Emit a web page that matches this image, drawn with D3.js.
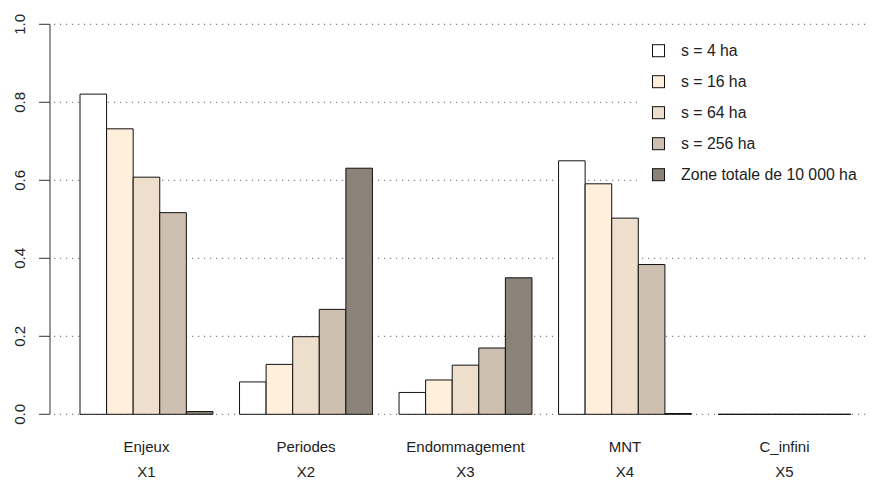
<!DOCTYPE html>
<html>
<head>
<meta charset="utf-8">
<script src="https://cdn.jsdelivr.net/npm/d3@7"></script>
<style>
body { margin: 0; background: #fff; }
text { font-family: "Liberation Sans", Arial, sans-serif; }
</style>
</head>
<body>
<div id="chart"></div>
<script>
const categories = ["Enjeux", "Periodes", "Endommagement", "MNT", "C_infini"];
const codes = ["X1", "X2", "X3", "X4", "X5"];
const seriesNames = ["s = 4 ha", "s = 16 ha", "s = 64 ha", "s = 256 ha", "Zone totale de 10 000 ha"];
const s4 = [0.821, 0.083, 0.056, 0.650, 0];
const s16 = [0.732, 0.128, 0.088, 0.591, 0];
const s64 = [0.608, 0.199, 0.126, 0.503, 0];
const s256 = [0.517, 0.269, 0.170, 0.384, 0];
const total = [0.007, 0.631, 0.350, 0.002, 0];
const colors = ["#FFFFFF", "#FFEFDB", "#EEDFCC", "#CDC0B0", "#8B8378"];
const yTicks = [0, 0.2, 0.4, 0.6, 0.8, 1.0];

const width = 872, height = 480;
const svg = d3.select("#chart").append("svg")
    .attr("width", width)
    .attr("height", height);

// bar units as in R barplot(beside=TRUE): one bar = 1 unit, one unit gap between groups
const xScale = d3.scaleLinear().domain([1, 30]).range([80, 851]);
const yScale = d3.scaleLinear().domain([0, 1]).range([414.3, 24.3]);

const allSeries = [s4, s16, s64, s256, total];

// dotted grid
svg.append("g").selectAll("line")
    .data(yTicks)
    .enter().append("line")
    .attr("x1", 54).attr("x2", 868)
    .attr("y1", d => yScale(d)).attr("y2", d => yScale(d))
    .attr("stroke", "#666")
    .attr("stroke-width", 1)
    .attr("stroke-dasharray", "1.2,4.8");

// bars
const bars = [];
categories.forEach((c, g) => {
    allSeries.forEach((s, k) => {
        bars.push({g: g, k: k, value: s[g]});
    });
});

// paths so that zero-height bars still show their outline
svg.append("g").selectAll("path")
    .data(bars)
    .enter().append("path")
    .attr("d", d => {
        const x0 = xScale(1 + d.g * 6 + d.k), x1 = xScale(2 + d.g * 6 + d.k);
        const y0 = yScale(0), y1 = yScale(d.value);
        return `M${x0},${y0}V${y1}H${x1}V${y0}Z`;
    })
    .attr("fill", d => colors[d.k])
    .attr("stroke", "#111")
    .attr("stroke-width", 1);

// y axis
const yAxis = d3.axisLeft(yScale)
    .tickValues(yTicks)
    .tickSize(11)
    .tickFormat(d3.format(".1f"));

const ax = svg.append("g")
    .attr("transform", "translate(50,0)")
    .call(yAxis);
ax.select(".domain").attr("stroke", "#333").attr("d", `M0,${yScale(0)}V${yScale(1)}`);
ax.selectAll(".tick line").attr("stroke", "#333");
ax.selectAll(".tick text")
    .attr("x", 0).attr("y", 0)
    .attr("dy", null)
    .attr("transform", d => `translate(-31,${yScale(d)}) rotate(-90)`)
    .attr("text-anchor", "middle")
    .attr("dominant-baseline", "central")
    .style("font-size", "15px")
    .attr("fill", "#222");
ax.selectAll(".tick").attr("transform", null);
ax.selectAll(".tick line").attr("y1", d => yScale(d)).attr("y2", d => yScale(d));

// category labels
const catG = svg.append("g");
categories.forEach((c, g) => {
    const cx = xScale(1 + g * 6 + 2.5);
    catG.append("text").attr("x", cx).attr("y", 452)
        .attr("text-anchor", "middle").style("font-size", "15px").attr("fill", "#222").text(c);
    catG.append("text").attr("x", cx).attr("y", 477)
        .attr("text-anchor", "middle").style("font-size", "15px").attr("fill", "#222").text(codes[g]);
});

// legend
const legend = svg.append("g");
legend.append("rect")
    .attr("x", 637).attr("y", 34).attr("width", 235).attr("height", 158)
    .attr("fill", "#fff");
seriesNames.forEach((n, i) => {
    const cy = 50.7 + i * 31;
    legend.append("rect")
        .attr("x", 652.5).attr("y", cy - 6)
        .attr("width", 12).attr("height", 12)
        .attr("fill", colors[i]).attr("stroke", "#111");
    legend.append("text")
        .attr("x", 681).attr("y", cy + 5.5)
        .style("font-size", "15.8px").attr("fill", "#222")
        .text(n);
});
</script>
</body>
</html>
